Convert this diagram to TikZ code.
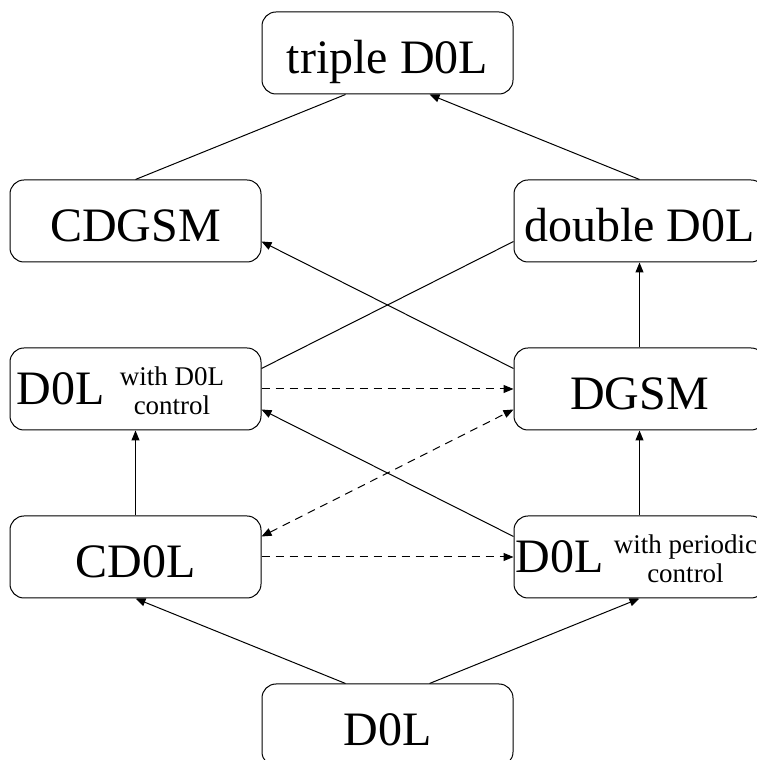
\documentclass[tikz,border=0pt]{standalone}
\usepackage{fontspec}
\setmainfont{Liberation Serif}
\usepackage{tikz}
\usetikzlibrary{arrows.meta,positioning}
\newcommand{\subnote}[2]{\raisebox{-10pt}{\fontsize{27}{29}\selectfont
  \begin{tabular}[b]{@{}c@{}}#1\\#2\end{tabular}}}

\begin{document}
\begin{tikzpicture}[
  font=\fontsize{48}{56}\selectfont,
  node distance=85pt and 0pt,
  arrow/.style={-{Triangle[length=10pt,width=8pt]}, line width=1pt},
  darrow/.style={{Triangle[length=10pt,width=8pt]}-{Triangle[length=10pt,width=8pt]}, line width=1pt},
  link/.style={line width=1pt},
  dashline/.style={dash pattern=on 8pt off 6pt},
  box/.style={rectangle, rounded corners=14pt, draw, line width=1pt, fill=white,
              minimum width=251pt, minimum height=82pt, inner sep=0pt,
              align=center, text height=42pt, text depth=0pt},
  subbox/.style={box, text height=31pt}
]
\useasboundingbox (0,0) rectangle (757pt,760pt);

% Top
\node[box] (triple) at (387.5pt,707pt) {triple D0L};

% Second row
\node[box, below left=of triple.south west] (cdgsm) {CDGSM};
\node[box, below right=of triple.south east] (dbl) {double D0L};

% Third row
\node[subbox, below=of cdgsm] (ctl)
  {D0L\hspace{15pt}\subnote{with D0L}{control}\hspace*{30pt}};
\node[box, below=of dbl] (dgsm) {DGSM};

% Fourth row
\node[box, below=of ctl] (cd0l) {CD0L};
\node[subbox, below=of dgsm] (per)
  {D0L\hspace{10pt}\subnote{with periodic}{control}\hspace*{6pt}};

% Bottom
\node[box, below right=of cd0l.south east] (base) {D0L};

% Arrows
\draw[link] (cdgsm.north) -- ([xshift=-42pt]triple.south);
\draw[arrow] (dbl.north) -- ([xshift=42pt]triple.south);

\draw[arrow] ([yshift=20.5pt]dgsm.west) -- ([yshift=-20.5pt]cdgsm.east);
\draw[link] ([yshift=20.5pt]ctl.east) -- ([yshift=-20.5pt]dbl.west);
\draw[arrow] (dgsm) -- (dbl);

\draw[arrow, dashline] (ctl.east) -- (dgsm.west);
\draw[arrow] ([yshift=20.5pt]per.west) -- ([yshift=-20.5pt]ctl.east);
\draw[darrow, dashline] ([yshift=20.5pt]cd0l.east) -- ([yshift=-20.5pt]dgsm.west);

\draw[arrow] (cd0l) -- (ctl);
\draw[arrow] (per) -- (dgsm);
\draw[arrow, dashline] (cd0l.east) -- (per.west);

\draw[arrow] ([xshift=-42pt]base.north) -- (cd0l.south);
\draw[arrow] ([xshift=42pt]base.north) -- (per.south);

\end{tikzpicture}
\end{document}
